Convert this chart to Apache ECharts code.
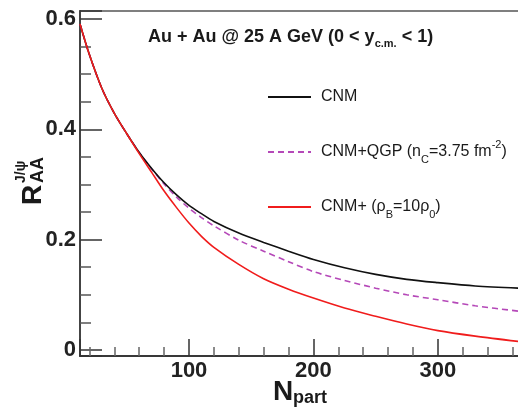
<!DOCTYPE html>
<html>
<head>
<meta charset="utf-8">
<script src="https://cdn.jsdelivr.net/npm/echarts@6/dist/echarts.min.js"></script>
<style>
  html, body {margin: 0; padding: 0; background: #fff;}
  #chart {width: 518px; height: 409px;}
</style>
</head>
<body>
<div id="chart"></div>
<script>
// N_part values where the curves are sampled
const npart = [12.4, 20, 30, 40, 50, 60, 70, 80, 90, 100, 110, 120, 140, 160, 180, 200, 225, 250, 275, 300, 330, 366];
// R_AA for the three scenarios
const cnm = [0.591, 0.535, 0.474, 0.429, 0.392, 0.358, 0.329, 0.303, 0.281, 0.262, 0.247, 0.233, 0.212, 0.195, 0.179, 0.164, 0.149, 0.137, 0.128, 0.122, 0.116, 0.112];
const cnmQgp = [0.591, 0.535, 0.474, 0.429, 0.392, 0.358, 0.328, 0.301, 0.277, 0.257, 0.240, 0.225, 0.199, 0.179, 0.160, 0.142, 0.126, 0.112, 0.100, 0.091, 0.080, 0.070];
const cnmRho = [0.591, 0.535, 0.474, 0.429, 0.392, 0.356, 0.322, 0.288, 0.258, 0.230, 0.206, 0.186, 0.155, 0.129, 0.110, 0.094, 0.076, 0.061, 0.047, 0.035, 0.025, 0.015];
const seriesNames = ['CNM', 'CNM+QGP', 'CNM+rho'];
const legendLabels = {
  'CNM': '{t|CNM}',
  'CNM+QGP': '{t|CNM+QGP (n}{sub|C}{t|=3.75 fm}{sup|-2}{t|)}',
  'CNM+rho': '{t|CNM+ (ρ}{sub|B}{t|=10ρ}{sub|0}{t|)}'
};

const font = 'Liberation Sans, Helvetica, Arial, sans-serif';
const zip = (xs, ys) => xs.map((x, i) => [x, ys[i]]);

const chart = echarts.init(document.getElementById('chart'));
chart.setOption({
  animation: false,
  title: {
    left: 148, top: 25, padding: 0,
    text: '{b|Au + Au @ 25 A GeV (0 < y}{s|c.m.}{b| < 1)}',
    textStyle: {
      rich: {
        b: {fontFamily: font, fontSize: 18, fontWeight: 'bold', color: '#1a1a1a', lineHeight: 24},
        s: {fontFamily: font, fontSize: 11, fontWeight: 'bold', color: '#1a1a1a', verticalAlign: 'bottom'}
      }
    }
  },
  legend: {
    orient: 'vertical', left: 267, top: 89, padding: 0,
    itemWidth: 43, itemHeight: 14, itemGap: 34,
    data: seriesNames,
    formatter: name => legendLabels[name],
    itemStyle: {opacity: 0, borderWidth: 0},
    textStyle: {
      padding: [0, 0, 0, 5],
      rich: {
        t: {fontFamily: font, fontSize: 16, color: '#1a1a1a', lineHeight: 26},
        sub: {fontFamily: font, fontSize: 11, color: '#1a1a1a', verticalAlign: 'bottom'},
        sup: {fontFamily: font, fontSize: 11, color: '#1a1a1a', verticalAlign: 'top'}
      }
    }
  },
  grid: {
    left: 80, top: 11, right: -2, bottom: 53,
    containLabel: false, outerBoundsMode: 'none',
    show: true, borderColor: '#555', borderWidth: 1.5
  },
  xAxis: {
    type: 'value', min: 12.4, max: 366,
    minInterval: 100, maxInterval: 100,
    name: '{n|N}{s|part}', nameLocation: 'middle', nameGap: 21, nameMoveOverlap: false,
    nameTextStyle: {
      rich: {
        n: {fontFamily: font, fontSize: 28, fontWeight: 'bold', color: '#1a1a1a', lineHeight: 30},
        s: {fontFamily: font, fontSize: 18, fontWeight: 'bold', color: '#1a1a1a', verticalAlign: 'bottom'}
      }
    },
    axisLine: {onZero: false, lineStyle: {color: '#222', width: 1.6}},
    axisTick: {inside: true, length: 17, lineStyle: {color: '#333', width: 1.5}},
    minorTick: {show: true, splitNumber: 5, length: 9, lineStyle: {color: '#666', width: 1.5}},
    splitLine: {show: false},
    axisLabel: {
      showMinLabel: false, showMaxLabel: false, margin: 4,
      fontFamily: font, fontSize: 22, fontWeight: 'bold', color: '#222'
    }
  },
  yAxis: {
    type: 'value', min: -0.011, max: 0.6145,
    splitNumber: 3, minInterval: 0.2, maxInterval: 0.2,
    axisLine: {show: true, onZero: false, lineStyle: {color: '#444', width: 2}},
    axisTick: {inside: true, length: 22, lineStyle: {color: '#333', width: 1.5}},
    minorTick: {show: true, splitNumber: 4, length: 11, lineStyle: {color: '#555', width: 1.5}},
    splitLine: {show: false},
    axisLabel: {
      showMinLabel: false, showMaxLabel: false, margin: 4,
      fontFamily: font, fontSize: 22, fontWeight: 'bold', color: '#222'
    }
  },
  graphic: [{
    type: 'group', x: 33, y: 205, rotation: Math.PI / 2,
    children: [
      {type: 'text', x: 0, y: 0, style: {text: 'R', font: 'bold 28px ' + font, fill: '#1a1a1a', align: 'left', verticalAlign: 'middle'}},
      {type: 'text', x: 22, y: 5, style: {text: 'AA', font: 'bold 18px ' + font, fill: '#1a1a1a', align: 'left', verticalAlign: 'middle'}},
      {type: 'text', x: 22, y: -12, style: {text: 'J/ψ', font: 'bold 14px ' + font, fill: '#1a1a1a', align: 'left', verticalAlign: 'middle'}}
    ]
  }],
  series: [
    {
      name: seriesNames[0], type: 'line', data: zip(npart, cnm),
      symbol: 'none', smooth: 0.3, z: 3,
      lineStyle: {color: '#111', width: 1.6}, itemStyle: {color: '#111'}
    },
    {
      name: seriesNames[1], type: 'line', data: zip(npart, cnmQgp),
      symbol: 'none', smooth: 0.3, z: 2,
      lineStyle: {color: '#b548b8', width: 1.6, type: [6, 4]}, itemStyle: {color: '#b548b8'}
    },
    {
      name: seriesNames[2], type: 'line', data: zip(npart, cnmRho),
      symbol: 'none', smooth: 0.3, z: 4,
      lineStyle: {color: '#f01c1c', width: 1.6}, itemStyle: {color: '#f01c1c'}
    }
  ]
});
</script>
</body>
</html>
